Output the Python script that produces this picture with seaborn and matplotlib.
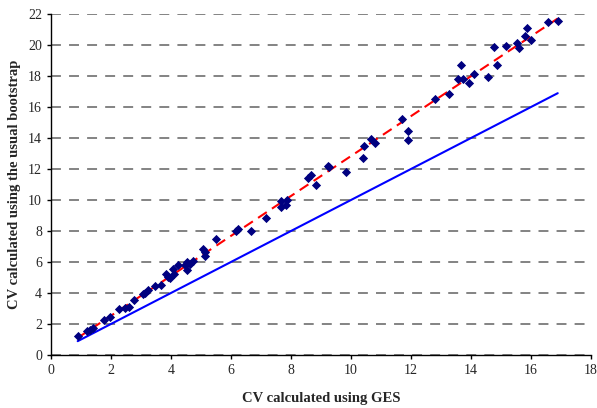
import numpy as np
import pandas as pd
import seaborn as sns
import matplotlib.pyplot as plt

# CV values
ges_cv = [0.89, 1.20, 1.29, 1.41, 1.78, 1.97, 2.28, 2.48, 2.59, 2.78,
          3.06, 3.14, 3.24, 3.48, 3.67, 3.85, 3.91, 3.98, 4.08, 4.11,
          4.24, 4.48, 4.52, 4.55, 4.64, 4.73, 5.08, 5.12, 5.14, 5.50,
          6.17, 6.24, 6.68, 7.17, 7.65, 7.68, 7.84, 7.86, 8.57, 8.68,
          8.82, 9.24, 9.28, 9.82, 10.40, 10.44, 10.65, 10.80, 11.69, 11.89,
          11.89, 12.81, 13.28, 13.56, 13.68, 13.72, 13.92, 14.11, 14.58, 14.76,
          14.86, 15.18, 15.53, 15.61, 15.79, 15.87, 16.00, 16.57, 16.89]
boot_cv = [1.21, 1.52, 1.58, 1.75, 2.27, 2.48, 2.98, 3.02, 3.09, 3.56,
           3.95, 4.01, 4.16, 4.48, 4.53, 5.20, 5.05, 4.98, 5.56, 5.24,
           5.82, 5.82, 5.50, 6.00, 5.86, 6.04, 6.85, 6.63, 6.40, 7.48,
           7.97, 8.14, 8.03, 8.83, 9.54, 9.95, 9.65, 9.97, 11.41, 11.58,
           10.98, 12.18, 12.10, 11.80, 12.72, 13.47, 13.95, 13.69, 15.24, 14.44,
           13.88, 16.53, 16.85, 17.80, 18.68, 17.82, 17.56, 18.10, 17.92, 19.86,
           18.72, 19.95, 20.12, 19.82, 20.61, 21.11, 20.34, 21.47, 21.54]

df = pd.DataFrame({"GES": ges_cv, "Boot": boot_cv})

# linear trend of the points and the y = x line over the same range
slope, intercept = np.polyfit(df["GES"], df["Boot"], 1)
xr = np.array([df["GES"].min(), df["GES"].max()])
trend = pd.DataFrame({"x": xr, "y": slope * xr + intercept})
ident = pd.DataFrame({"x": xr, "y": xr})

sns.set_style("white")
plt.rcParams["font.family"] = ["Liberation Serif", "DejaVu Serif"]

fig = plt.figure(figsize=(5.97, 4.08), dpi=100)
ax = fig.add_axes([0.0854, 0.13, 0.9046, 0.8357])

ax.yaxis.grid(True, color="#7a7a7a", linestyle=(0, (5.5, 4.5)), linewidth=1.3)
ax.set_axisbelow(True)

sns.lineplot(data=ident, x="x", y="y", color="#0000ff", linewidth=1.5, ax=ax)
sns.lineplot(data=trend, x="x", y="y", color="#ff0000", linewidth=1.5,
             linestyle=(0, (5, 3)), ax=ax)
sns.scatterplot(data=df, x="GES", y="Boot", marker="D", s=22, color="#000080",
                edgecolor="#000080", linewidth=0, ax=ax, zorder=5)

ax.set_xlim(0, 18)
ax.set_ylim(0, 22)
ax.set_xticks(range(0, 19, 2))
ax.set_yticks(range(0, 23, 2))
ax.tick_params(axis="both", labelsize=10, direction="out", length=3, width=1,
               color="black", bottom=True, left=True)
for side in ["top", "right"]:
    ax.spines[side].set_visible(False)
for side in ["left", "bottom"]:
    ax.spines[side].set_color("black")
    ax.spines[side].set_linewidth(1)

ax.set_xlabel("CV calculated using GES", fontsize=10.5, fontweight="bold", labelpad=11)
ax.set_ylabel("CV calculated using the usual bootstrap", fontsize=10.5,
              fontweight="bold", labelpad=5)

fig.savefig("out.png", dpi=100)
